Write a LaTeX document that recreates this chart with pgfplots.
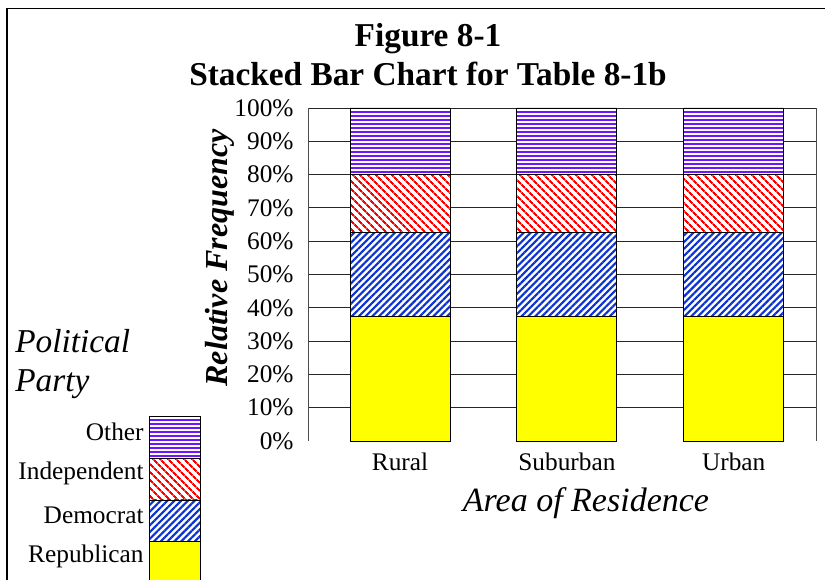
\documentclass[border=0pt]{standalone}
\usepackage{fontspec}
\setmainfont{Liberation Serif}
\usepackage{pgfplots}
\pgfplotsset{compat=1.18}
\usetikzlibrary{patterns.meta}
\definecolor{rep}{RGB}{255,255,0}
\definecolor{dem}{RGB}{10,50,210}
\definecolor{ind}{RGB}{255,0,0}
\definecolor{oth}{RGB}{110,20,255}
\pgfplotsset{
  rep/.style={fill=rep, draw=black, line width=0.6pt},
  dem/.style={draw=black, line width=0.6pt, fill=white, postaction={pattern={Lines[angle=45,distance=3.6pt,line width=1.6pt]}, pattern color=dem}},
  ind/.style={draw=black, line width=0.6pt, fill=white, postaction={pattern={Lines[angle=-45,distance=4pt,line width=1.6pt]}, pattern color=ind}},
  oth/.style={draw=black, line width=0.6pt, fill=white, postaction={pattern={Lines[angle=0,distance=3pt,line width=1.5pt]}, pattern color=oth}},
}
\pgfplotstableread{
x  rep  dem  ind  oth
0  37.5 25   17.5 20
1  37.5 25   17.5 20
2  37.5 25   17.5 20
}\maindata
\pgfplotstableread{
x   rep dem ind oth
0.5 1   1   1   1
}\legdata
\begin{document}
\begin{tikzpicture}
\useasboundingbox (0pt,0pt) rectangle (618.75pt,-435pt);
\draw[line width=1.1pt] (5.25pt,-440pt) -- (5.25pt,-6.4pt) -- (630pt,-6.4pt);
\node[anchor=base, font=\fontsize{25}{30}\selectfont\bfseries] at (321pt,-35.25pt) {Figure 8-1};
\node[anchor=base, font=\fontsize{25}{30}\selectfont\bfseries] at (321pt,-64.5pt) {Stacked Bar Chart for Table 8-1b};
\node[anchor=base, rotate=90, font=\fontsize{24}{28}\selectfont\bfseries\itshape] at (170.25pt,-193.5pt) {Relative Frequency};
\node[anchor=base, font=\fontsize{25.5}{30}\selectfont\itshape] at (439.5pt,-384pt) {Area of Residence};
\node[anchor=base west, inner sep=0pt, font=\fontsize{25}{30}\selectfont\itshape] at (11.25pt,-264.75pt) {Political};
\node[anchor=base west, inner sep=0pt, font=\fontsize{25}{30}\selectfont\itshape] at (11.25pt,-294pt) {Party};
\begin{axis}[
  at={(231.2pt,-330.75pt)}, anchor=south west,
  scale only axis, width=381.3pt, height=249.75pt,
  xmin=-0.55, xmax=2.497, ymin=0, ymax=100,
  ybar stacked, bar width=75pt,
  xtick={0,1,2}, xticklabels={Rural,Suburban,Urban},
  ytick={10,20,...,100},
  extra y ticks={0}, extra y tick style={grid=none},
  yticklabel={\pgfmathprintnumber{\tick}\%},
  ymajorgrids, grid style={black!85, line width=0.7pt},
  major tick length=0pt,
  separate axis lines,
  x axis line style={draw=none},
  y axis line style={black!70, line width=0.7pt},
  /pgf/number format/assume math mode=true,
  tick label style={font=\fontsize{19}{21}\selectfont},
  xticklabel style={yshift=-5.5pt},
  yticklabel style={xshift=-7.5pt},
  clip=false,
]
\addplot[rep] table[x=x, y=rep] {\maindata};
\addplot[dem] table[x=x, y=dem] {\maindata};
\addplot[ind] table[x=x, y=ind] {\maindata};
\addplot[oth] table[x=x, y=oth] {\maindata};
\end{axis}
\begin{axis}[
  at={(111.75pt,-437.5pt)}, anchor=south west,
  scale only axis, width=38.25pt, height=125pt,
  xmin=0, xmax=1, ymin=0, ymax=4,
  ybar stacked, bar width=38.25pt,
  xtick=\empty,
  ytick={0.5,1.5,2.5,3.5},
  yticklabels={Republican,Democrat,Independent,Other},
  major tick length=0pt,
  axis line style={draw=none},
  tick label style={font=\fontsize{19}{21}\selectfont},
  yticklabel style={yshift=4.5pt, xshift=-0.5pt},
  clip=false,
]
\addplot[rep] table[x=x, y=rep] {\legdata};
\addplot[dem] table[x=x, y=dem] {\legdata};
\addplot[ind] table[x=x, y=ind] {\legdata};
\addplot[oth] table[x=x, y=oth] {\legdata};
\end{axis}
\end{tikzpicture}
\end{document}
